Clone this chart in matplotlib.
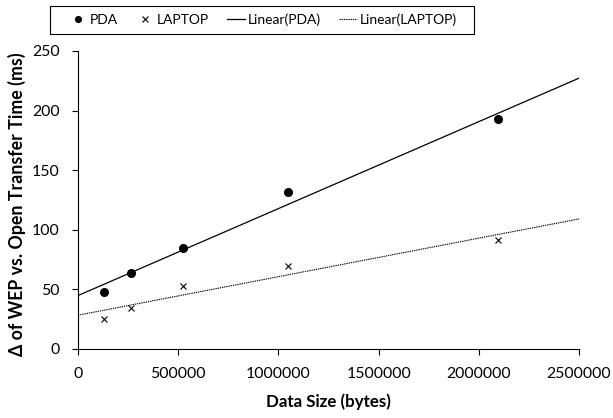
import numpy as np
import matplotlib
matplotlib.use("Agg")
import matplotlib.pyplot as plt
from matplotlib.patches import Rectangle
from matplotlib.ticker import FormatStrFormatter

plt.rcParams['font.family'] = ['Lato', 'DejaVu Sans']

sizes = [131072, 262144, 524288, 1048576, 2097152]
pda = [47.6, 63.8, 85.0, 131.5, 192.7]
laptop = [25.4, 34.1, 52.6, 69.6, 91.4]

W, H = 613, 418
fig = plt.figure(figsize=(W / 100, H / 100), dpi=100)
renderer = fig.canvas.get_renderer()


def size_for(text, target_px, weight='normal', base=10.0):
    t = fig.text(0, 0, text, fontsize=base, fontweight=weight)
    w = t.get_window_extent(renderer=renderer).width
    t.remove()
    return base * target_px / w


# axes: x from px 78 to 579, y from px 349 (bottom) to 51 (top)
ax = fig.add_axes([78 / W, 1 - 349 / H, (579 - 78) / W, (349 - 51) / H])

xs = np.array(sizes, dtype=float)
xl = np.array([0, 2500000], dtype=float)
p1 = np.polyfit(xs, pda, 1)
p2 = np.polyfit(xs, laptop, 1)

h1, = ax.plot(sizes, pda, 'o', color='black', markersize=5.5, linestyle='none', label='PDA')
h2, = ax.plot(sizes, laptop, 'x', color='black', markersize=5, markeredgewidth=0.8, linestyle='none', label='LAPTOP')
h3, = ax.plot(xl, np.polyval(p1, xl), '-', color='black', linewidth=0.9, label='Linear(PDA)')
h4, = ax.plot(xl, np.polyval(p2, xl), linestyle=(0, (1.2, 0.8)), color='black', linewidth=0.8, label='Linear(LAPTOP)')

ax.set_xlim(0, 2500000)
ax.set_ylim(0, 250)
ax.set_xticks([0, 500000, 1000000, 1500000, 2000000, 2500000])
ax.set_yticks([0, 50, 100, 150, 200, 250])
ax.xaxis.set_major_formatter(FormatStrFormatter('%d'))
ax.spines['top'].set_visible(False)
ax.spines['right'].set_visible(False)

tick_fs = size_for('500000', 55)
ax.tick_params(direction='out', length=4.3, labelsize=tick_fs, width=0.8)
ax.tick_params(axis='x', pad=9)
ax.tick_params(axis='y', pad=9)

xl_fs = size_for('Data Size (bytes)', 125, 'bold')
yl_fs = size_for('Δ of WEP vs. Open Transfer Time (ms)', 303, 'bold')
ax.set_xlabel('Data Size (bytes)', fontsize=xl_fs, fontweight='bold')
ax.xaxis.label.set_va('top')
ax.xaxis.set_label_coords((328.5 - 78) / 501, (349 - 393) / 298)
ax.set_ylabel('Δ of WEP vs. Open Transfer Time (ms)', fontsize=yl_fs, fontweight='bold')
ax.yaxis.set_label_coords((26 - 78) / 501, (349 - 204.5) / 298)

# legend frame drawn as a figure rectangle, entries centred inside it
fig.patches.append(Rectangle((50 / W, 1 - 34 / H), 424 / W, 28 / H, transform=fig.transFigure,
                             fill=False, edgecolor='black', linewidth=0.8))
leg_fs = size_for('Linear(LAPTOP)', 97)
leg = fig.legend(handles=[h1, h2, h3, h4], loc='center',
                 bbox_to_anchor=(263 / W, 1 - 20 / H),
                 ncol=4, frameon=False, fontsize=leg_fs,
                 handlelength=1.3, handletextpad=0.2, columnspacing=1.3, borderpad=0.0,
                 markerscale=0.75, borderaxespad=0)

fig.savefig('out.png', dpi=100)
